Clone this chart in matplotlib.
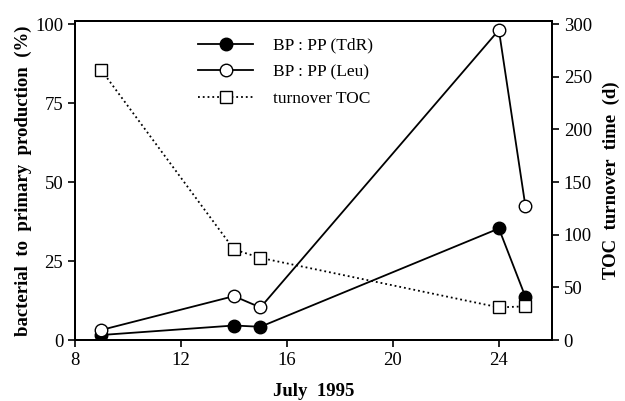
import matplotlib
matplotlib.use('Agg')
import matplotlib.pyplot as plt

# data
days = [9, 14, 15, 24, 25]
bpTdR = [1.6, 4.6, 4.2, 35.3, 13.7]
bpLeu = [3.2, 13.9, 10.3, 98.1, 42.4]
turnoverToc = [256, 86, 78, 31, 32]

xTicks = [8, 12, 16, 20, 24]
leftTicks = [0, 25, 50, 75, 100]
rightTicks = [0, 50, 100, 150, 200, 250, 300]

plt.rcParams['font.family'] = 'Liberation Serif'

fig = plt.figure(figsize=(6.25, 4.01), dpi=100)
ax = fig.add_axes([0.12, 0.152, 0.763, 0.796])
ax2 = ax.twinx()

l1, = ax.plot(days, bpTdR, color='black', lw=1.3, marker='o', ms=9,
              mfc='black', mec='black', label='BP : PP (TdR)')
l2, = ax.plot(days, bpLeu, color='black', lw=1.3, marker='o', ms=9,
              mfc='white', mec='black', label='BP : PP (Leu)')
l3, = ax2.plot(days, turnoverToc, color='black', lw=1.3, ls=':', marker='s', ms=9,
               mfc='white', mec='black', label='turnover TOC')

ax.set_xlim(8, 26)
ax.set_ylim(0, 101)
ax2.set_ylim(0, 303)
ax.set_xticks(xTicks)
ax.set_yticks(leftTicks)
ax2.set_yticks(rightTicks)

for a in (ax, ax2):
    a.tick_params(labelsize=13.5, width=1.2, length=5, direction='out')
    for s in a.spines.values():
        s.set_linewidth(1.4)

ax.set_xlabel('July  1995', fontsize=13.5, fontweight='bold', labelpad=10)
ax.set_ylabel('bacterial  to  primary  production  (%)', fontsize=13.5, fontweight='bold', labelpad=2)
ax2.set_ylabel('TOC  turnover  time  (d)', fontsize=13.5, fontweight='bold', labelpad=8)

ax.legend(handles=[l1, l2, l3], loc='upper left', bbox_to_anchor=(0.225, 0.997),
          frameon=False, fontsize=12.5, handlelength=3.2, handletextpad=1.1,
          labelspacing=0.62)

fig.savefig('out.png', dpi=100)
